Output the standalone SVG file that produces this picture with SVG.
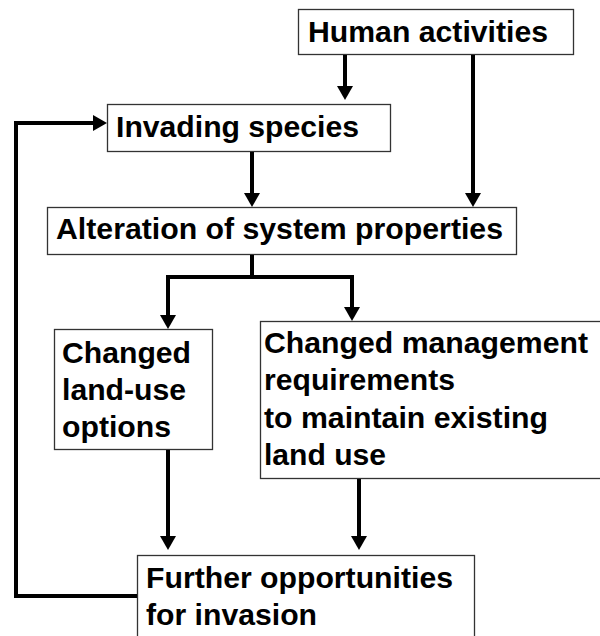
<svg xmlns="http://www.w3.org/2000/svg" width="600" height="636" viewBox="0 0 600 636">
  <style>
    .box { fill: #ffffff; stroke: #333333; stroke-width: 1.3; }
    .lbl { font-family: "Liberation Sans", Arial, sans-serif; font-weight: bold; font-size: 29.5px; fill: #000000; }
    .con { fill: none; stroke: #000000; stroke-width: 4; stroke-linejoin: miter; }
  </style>
  <defs>
    <marker id="arr" viewBox="0 0 14 16" refX="2" refY="8" markerWidth="14" markerHeight="16" markerUnits="userSpaceOnUse" orient="auto">
      <path d="M0,0 L14,8 L0,16 z" fill="#000000"/>
    </marker>
  </defs>
  <rect width="600" height="636" fill="#ffffff"/>

  <g id="human">
    <rect class="box" x="298.5" y="9.5" width="275" height="45"/>
    <text class="lbl" x="308" y="42" textLength="240" lengthAdjust="spacingAndGlyphs">Human activities</text>
  </g>
  <g id="invading">
    <rect class="box" x="107.5" y="104.5" width="283" height="47"/>
    <text class="lbl" x="116" y="137" textLength="243" lengthAdjust="spacingAndGlyphs">Invading species</text>
  </g>
  <g id="alteration">
    <rect class="box" x="47.5" y="207.5" width="469" height="47"/>
    <text class="lbl" x="56" y="239" textLength="447" lengthAdjust="spacingAndGlyphs">Alteration of system properties</text>
  </g>
  <g id="landuse">
    <rect class="box" x="54.5" y="329.5" width="158" height="120"/>
    <text class="lbl" x="62" y="363" textLength="129" lengthAdjust="spacingAndGlyphs">Changed</text>
    <text class="lbl" x="62" y="400" textLength="124" lengthAdjust="spacingAndGlyphs">land-use</text>
    <text class="lbl" x="62" y="437" textLength="109" lengthAdjust="spacingAndGlyphs">options</text>
  </g>
  <g id="management">
    <rect class="box" x="260.5" y="321.5" width="360" height="157"/>
    <text class="lbl" x="264" y="353" textLength="324" lengthAdjust="spacingAndGlyphs">Changed management</text>
    <text class="lbl" x="264" y="390" textLength="191" lengthAdjust="spacingAndGlyphs">requirements</text>
    <text class="lbl" x="264" y="428" textLength="284" lengthAdjust="spacingAndGlyphs">to maintain existing</text>
    <text class="lbl" x="264" y="465" textLength="122" lengthAdjust="spacingAndGlyphs">land use</text>
  </g>
  <g id="further">
    <rect class="box" x="137.5" y="555.5" width="337" height="110"/>
    <text class="lbl" x="146" y="588" textLength="307" lengthAdjust="spacingAndGlyphs">Further opportunities</text>
    <text class="lbl" x="146" y="625" textLength="171" lengthAdjust="spacingAndGlyphs">for invasion</text>
  </g>

  <g id="connectors">
    <path class="con" d="M345,55 V88" marker-end="url(#arr)"/>
    <path class="con" d="M473,55 V195" marker-end="url(#arr)"/>
    <path class="con" d="M252,152 V195" marker-end="url(#arr)"/>
    <path class="con" d="M252,255 V277 H168 V317" marker-end="url(#arr)"/>
    <path class="con" d="M252,277 H352 V309" marker-end="url(#arr)"/>
    <path class="con" d="M168,450 V538" marker-end="url(#arr)"/>
    <path class="con" d="M359,479 V538" marker-end="url(#arr)"/>
    <path class="con" d="M137,596 H16 V123 H95" marker-end="url(#arr)"/>
  </g>
</svg>
